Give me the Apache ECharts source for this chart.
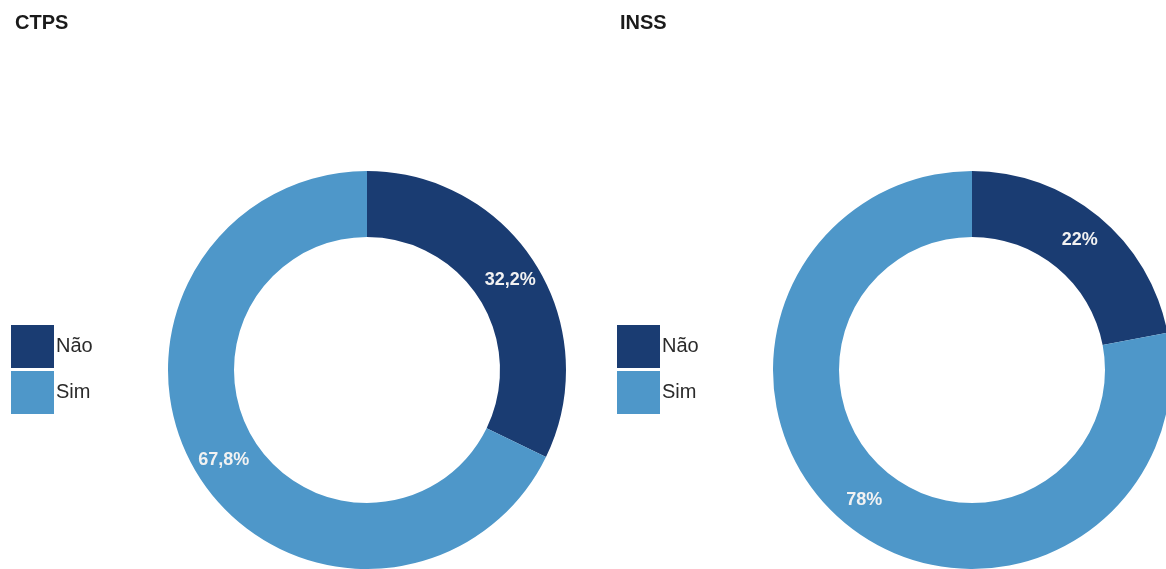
<!DOCTYPE html>
<html><head><meta charset="utf-8">
<script src="https://cdn.jsdelivr.net/npm/echarts@6/dist/echarts.min.js"></script>
<style>html,body{margin:0;padding:0;background:#fff}#c{width:1166px;height:569px}</style>
</head><body><div id="c"></div>
<script>
const categories = ["Não", "Sim"];
const titles = ["CTPS", "INSS"];
const ctpsValues = [32.2, 67.8];
const inssValues = [22, 78];
const colors = ["#1a3c72", "#4e97c9"];

const fmt = v => String(v).replace('.', ',') + '%';
function mkData(vals){
  return categories.map((c,i)=>({name:c, value:vals[i], itemStyle:{color:colors[i]}}));
}
function mkSeries(vals, cx){
  return {
    type:'pie', center:[cx,370], radius:[133,199], startAngle:90, clockwise:true,
    silent:true, avoidLabelOverlap:false,
    label:{show:true, position:'inside', formatter:p=>fmt(p.value), color:'#f2f2f2',
      fontFamily:'Liberation Sans, Arial, sans-serif', fontSize:18, fontWeight:'bold'},
    labelLine:{show:false},
    itemStyle:{borderWidth:0},
    data:mkData(vals)
  };
}
const chart = echarts.init(document.getElementById('c'), null, {renderer:'canvas'});
const legendBase = {orient:'vertical', top:320, itemWidth:43, itemHeight:43, itemGap:3,
  icon:'rect', data:categories, selectedMode:false,
  textStyle:{fontFamily:'Liberation Sans, Arial, sans-serif', fontSize:20, color:'#2a2a2a', padding:[0,0,0,-3]}};
const titleStyle = {fontFamily:'Liberation Sans, Arial, sans-serif', fontSize:20, fontWeight:'bold', color:'#1a1a1a'};
chart.setOption({
  animation:false,
  title:[
    {text:titles[0], left:10, top:8, textStyle:titleStyle},
    {text:titles[1], left:615, top:8, textStyle:titleStyle}
  ],
  legend:[
    Object.assign({}, legendBase, {left:6}),
    Object.assign({}, legendBase, {left:612})
  ],
  series:[mkSeries(ctpsValues, 367), mkSeries(inssValues, 972)]
});
</script></body></html>
